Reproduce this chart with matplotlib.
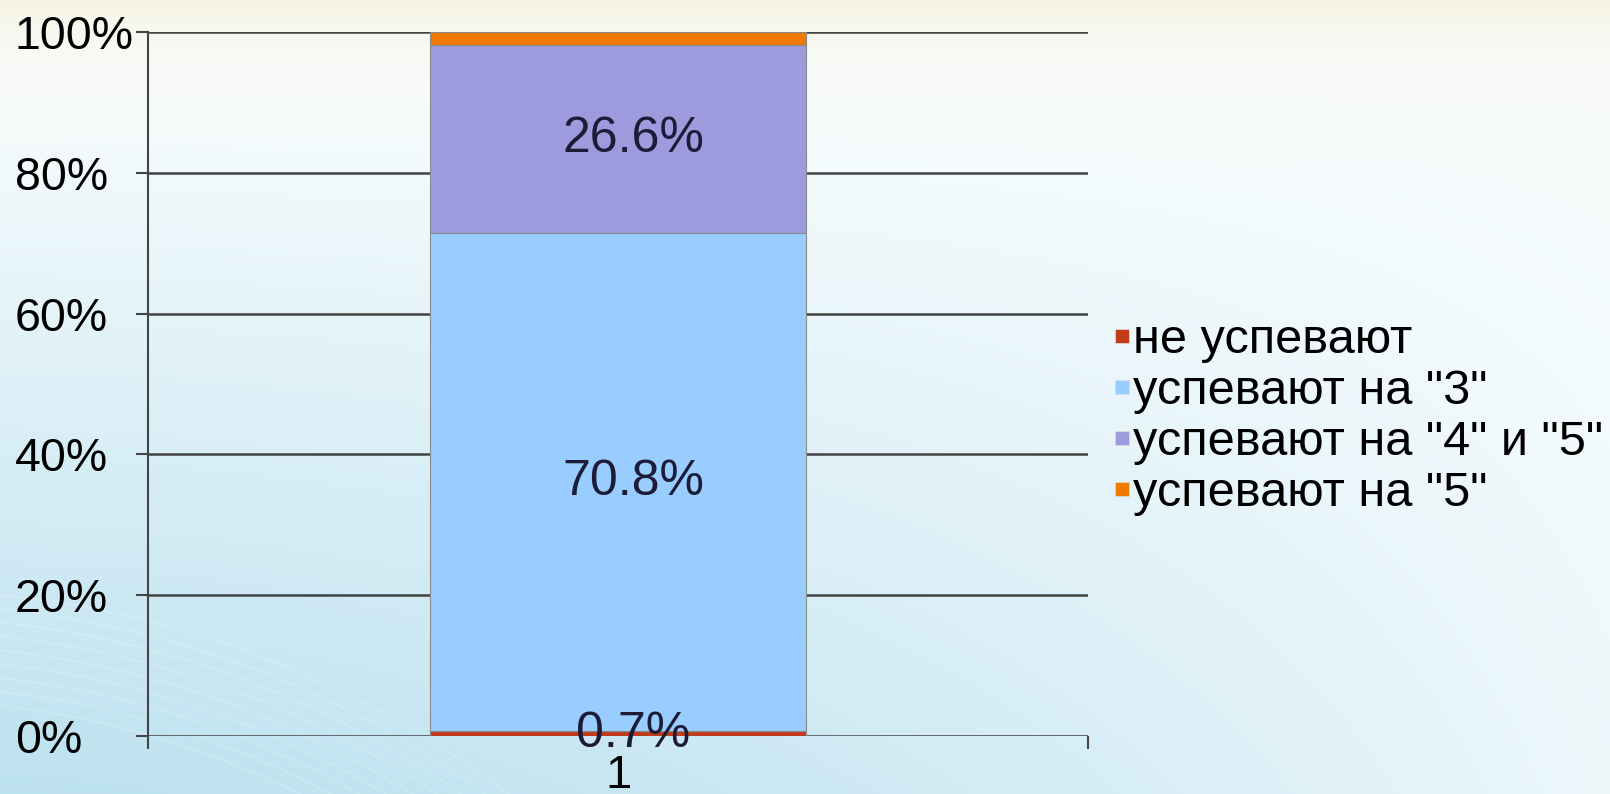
import numpy as np
import matplotlib
matplotlib.use("Agg")
from matplotlib import pyplot as plt
from matplotlib.lines import Line2D

plt.rcParams["font.family"] = ["Liberation Sans", "DejaVu Sans"]

# data
categories = ["1"]
series_names = ["не успевают", 'успевают на "3"', 'успевают на "4" и "5"', 'успевают на "5"']
series_values = [0.7, 70.8, 26.6, 1.9]
series_labels = ["0.7%", "70.8%", "26.6%", None]
series_colors = ["#C23B1A", "#99CCFF", "#9D9BDD", "#F07A00"]
yticks = [0, 20, 40, 60, 80, 100]

W, H = 1610, 794
fig = plt.figure(figsize=(W / 100, H / 100), dpi=100)

# slide background: cream top, light blue towards the bottom-left, white on the right
bg = fig.add_axes([0, 0, 1, 1], zorder=-10)
yy, xx = np.mgrid[0:H, 0:W]
t, u = yy / H, xx / W
white = np.array([0.975, 0.992, 0.995])
blue = np.array([0.74, 0.885, 0.94])
cream = np.array([0.965, 0.955, 0.89])
b = np.clip((t - 0.12) / 0.88, 0, 1) ** 0.9 * (1 - 0.8 * u ** 1.6)
img = white * (1 - b[..., None]) + blue * b[..., None]
c = np.exp(-yy / 50.0)[..., None]
img = img * (1 - c) + cream * c
bg.imshow(img, extent=(0, W, H, 0), aspect="auto")
th = np.linspace(0, np.pi / 2, 200)
for r in np.linspace(900, 1010, 9):
    bg.plot(-100 + r * np.sin(th), 1600 - r * np.cos(th), color="white", alpha=0.18, lw=1.2)
bg.set_xlim(0, W); bg.set_ylim(H, 0); bg.axis("off")

ax = fig.add_axes([148 / W, 1 - 736 / H, (1088 - 148) / W, (736 - 32) / H])
ax.patch.set_alpha(0)
x = np.arange(1, len(categories) + 1)
bottom = 0.0
for name, val, col, lab in zip(series_names, series_values, series_colors, series_labels):
    ax.bar(x, [val], 0.4, bottom=bottom, color=col, edgecolor="#8a8a8a", linewidth=0.8,
           label=name, zorder=2)
    if lab:
        ax.annotate(lab, (x[0], bottom + val / 2), xytext=(11, 0), textcoords="offset points",
                    ha="center", va="center", fontsize=36, color="#1c1c38", zorder=5)
    bottom += val

ax.set_xlim(0.5, len(categories) + 0.5)
ax.set_ylim(0, 100)
ax.set_yticks(yticks)
ax.set_yticklabels([f"{v}%" for v in yticks], ha="left")
ax.set_xticks(x)
ax.set_xticklabels(categories)
ax.set_xticks([0.5, len(categories) + 0.5], minor=True)
# Excel-style left-aligned value labels starting near the slide edge
ax.tick_params(axis="y", labelsize=33.5, length=9, width=1.5, color="#444444", pad=87)
ax.tick_params(axis="x", which="major", labelsize=34, length=0, pad=13)
ax.tick_params(axis="x", which="minor", length=9, width=1.5, color="#444444")
ax.grid(axis="y", color="#424242", linewidth=1.8, zorder=1)
ax.set_axisbelow(True)
for s in ["top", "right", "bottom"]:
    ax.spines[s].set_visible(False)
ax.spines["left"].set_color("#444444")
ax.spines["left"].set_linewidth(1.5)

handles = [Line2D([], [], marker="s", linestyle="none", markersize=10,
                  markerfacecolor=col, markeredgecolor="#dddddd", markeredgewidth=0.5)
           for col in series_colors]
fig.legend(handles, series_names, loc="center left", bbox_to_anchor=(1111 / W, 1 - 417 / H),
           frameon=False, fontsize=35, handlelength=0.45, handletextpad=0.0,
           labelspacing=0.13, borderpad=0, borderaxespad=0)

fig.savefig("out.png", dpi=100)
